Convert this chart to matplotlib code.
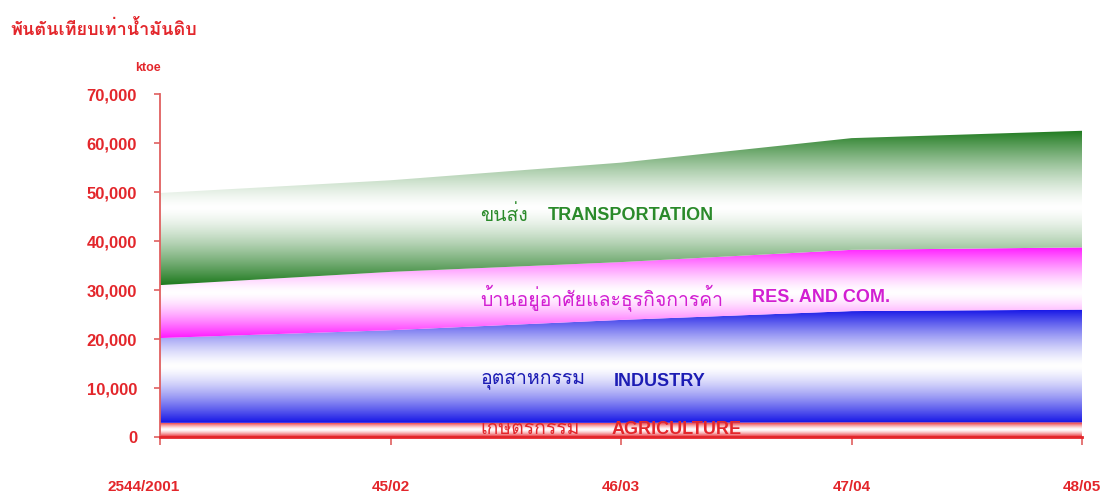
'Energy consumption by sector (ktoe), stacked area with gradient fill'
import numpy as np
import matplotlib
matplotlib.use('Agg')
import matplotlib.pyplot as plt
import matplotlib.transforms as mtransforms
from matplotlib import font_manager
from matplotlib.ft2font import FT2Font
from matplotlib.colors import to_rgb

years = ['2544/2001', '45/02', '46/03', '47/04', '48/05']
agriculture = [2900, 2900, 2900, 3000, 3000]
industry = [17300, 18900, 21000, 22700, 23000]
res_com = [10800, 11900, 11800, 12500, 12700]
transport = [18800, 18700, 20300, 22800, 23800]

sectors = ['AGRICULTURE', 'INDUSTRY', 'RES. AND COM.', 'TRANSPORTATION']
sectors_th = ['เกษตรกรรม', 'อุตสาหกรรม', 'บ้านอยู่อาศัยและธุรกิจการค้า', 'ขนส่ง']
yticks = [0, 10000, 20000, 30000, 40000, 50000, 60000, 70000]

RED = '#e3262b'
AXRED = '#e06060'


def find_font(ch):
	# look for any installed font that has this character
	for f in font_manager.fontManager.ttflist:
		try:
			if ord(ch) in FT2Font(f.fname).get_charmap():
				return f.name
		except Exception:
			pass
	return None


thai = find_font('ก')
thai_family = [thai, 'DejaVu Sans'] if thai else ['DejaVu Sans']
narrow = [f.name for f in font_manager.fontManager.ttflist if f.name == 'Liberation Sans Narrow']
plt.rcParams['font.family'] = ['Liberation Sans', 'DejaVu Sans']

fig = plt.figure(figsize=(11.11, 4.97), dpi=100)
ax = fig.add_axes([0.144, 0.1207, 0.830, 0.6901])

x = np.arange(len(years))
series = [agriculture, industry, res_com, transport]
colours = ['#e8232a', '#1414e6', '#ff18ff', '#1f7a1f']
lo = np.zeros(len(years))
for vals, col in zip(series, colours):
	hi = lo + np.array(vals)
	poly = ax.fill_between(x, lo, hi, facecolor='none', edgecolor='none')
	ymin, ymax = lo.min(), hi.max()
	yy = np.linspace(ymin, ymax, 300)
	mid = (ymin + ymax) / 2
	a = (np.abs(yy - mid) / ((ymax - ymin) / 2)) ** 1.4
	base = np.array(to_rgb(col))
	img = 1 - a[:, None] * (1 - base[None, :])
	im = ax.imshow(img[:, None, :], extent=[x[0], x[-1], ymin, ymax],
		origin='lower', aspect='auto', interpolation='bilinear', zorder=1)
	im.set_clip_path(poly.get_paths()[0], transform=ax.transData)
	lo = hi

ax.set_xlim(0, 4)
ax.set_ylim(0, 70000)

# Axis styling
for s in ['top', 'right']:
	ax.spines[s].set_visible(False)
ax.spines['left'].set_color(AXRED)
ax.spines['bottom'].set_color(RED)
ax.spines['bottom'].set_linewidth(2)
ax.spines['left'].set_linewidth(1.3)
ax.set_yticks(yticks)
ax.set_yticklabels(['{:,}'.format(v) for v in yticks])
ax.set_xticks(x)
ax.set_xticklabels(years)
ax.tick_params(axis='y', colors=AXRED, length=4.5, width=1.2, pad=12, labelcolor=RED, labelsize=12)
ax.tick_params(axis='x', colors=AXRED, length=6, width=1.2, pad=25, labelcolor=RED, labelsize=11)
for t in ax.get_yticklabels():
	t.set_fontweight('bold')
for t in ax.get_xticklabels():
	t.set_family(narrow[:1] + ['Liberation Sans'])
	t.set_fontweight('bold')
# first year label sits a little left of its tick
first = ax.get_xticklabels()[0]
first.set_transform(first.get_transform() + mtransforms.ScaledTranslation(-0.16, 0, fig.dpi_scale_trans))

# Sector labels
label_pos = [(1.39, 1.96, 1600), (1.39, 1.97, 11400), (1.39, 2.57, 28400), (1.39, 1.68, 45300)]
text_cols = ['#e3262b', '#1c1cb4', '#d21fd2', '#2a8a2a']
for (xt, xe, yv), th, en, c in zip(label_pos, sectors_th, sectors, text_cols):
	ax.text(xt, yv, th, color=c, fontsize=14, family=thai_family, va='center', ha='left', zorder=3)
	ax.text(xe, yv, en, color=c, fontsize=13, fontweight='bold', va='center', ha='left', zorder=3)

fig.text(0.009, 0.94, 'พันตันเทียบเท่าน้ำมันดิบ', color=RED, fontsize=13, fontweight='bold',
	family=thai_family, va='center', ha='left')
fig.text(0.133, 0.863, 'ktoe', color=RED, fontsize=9, fontweight='bold', va='center', ha='center')

fig.savefig('out.png', dpi=100)
